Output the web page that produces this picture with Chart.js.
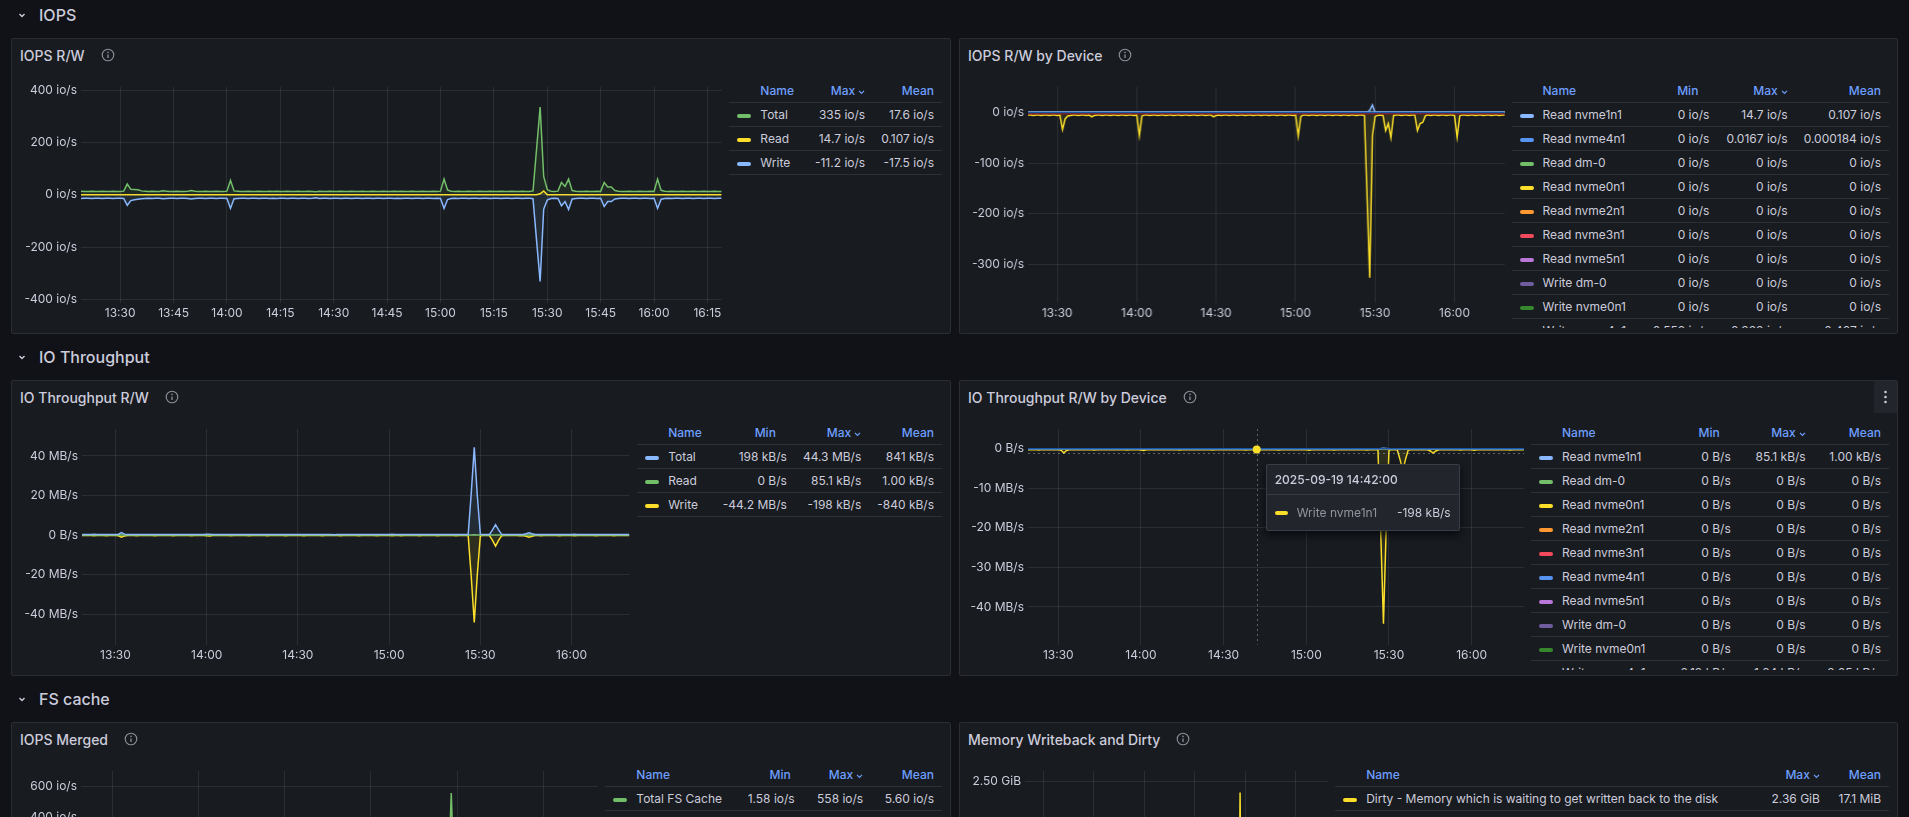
<!DOCTYPE html>
<html>
<head>
<meta charset="utf-8">
<title>Disk IO</title>
<script src="https://cdn.jsdelivr.net/npm/chart.js@4.4.1/dist/chart.umd.min.js"></script>
<style>
  html, body { margin: 0; padding: 0; background: #111217; }
  body { width: 1909px; height: 817px; overflow: hidden; position: relative; font-family: Inter, "Noto Sans", sans-serif; color: #ccccdc; }
  .row { position: absolute; left: 17px; height: 30px; display: flex; align-items: center; font-size: 16px; font-weight: 500; }
  .row svg { margin-right: 12px; }
  .panel { position: absolute; box-sizing: border-box; height: 296px; background: #181b1f; border: 1px solid #2a2d33; border-radius: 2px; }
  .panel.l { left: 11px; width: 940px; }
  .panel.r { left: 959px; width: 939px; }
  .head { height: 32px; padding-left: 8px; display: flex; align-items: center; font-size: 14px; font-weight: 500; }
  .head svg { margin-left: 16px; }
  .menu { position: absolute; right: 0; top: 0; width: 23px; height: 32px; background: #22252b; }
  .content { position: absolute; left: 8px; right: 8px; top: 40px; bottom: 8px; display: flex; }
  .plot { position: relative; flex: 1; min-width: 0; }
  .legend { margin-left: 7px; overflow: hidden; }
  .legend.scroll { margin-bottom: -3px; }
  table { border-collapse: collapse; font-size: 12px; white-space: nowrap; }
  th, td { height: 23px; padding: 0 8px; border-bottom: 1px solid rgba(204, 204, 220, 0.12); }
  th { color: #6e9fff; font-weight: 500; text-align: right; }
  th.min { padding-right: 19px; }
  #l5 th.min { padding-right: 12px; }
  th.n { text-align: left; padding-left: 31px; }
  th svg { margin-left: 3px; vertical-align: middle; }
  td { text-align: right; }
  td.n, th.n { padding-right: 13px; }
  td.n { text-align: left; }
  td.n i { display: inline-block; width: 14px; height: 4px; border-radius: 2px; margin-right: 9px; vertical-align: middle; }
  .tip { position: absolute; width: 194px; box-sizing: border-box; background: #22252b; border: 1px solid rgba(204, 204, 220, 0.15);
         border-radius: 2px; box-shadow: 0 4px 8px rgba(1, 4, 9, 0.75); font-size: 12px; z-index: 5; }
  .tip-head { height: 29px; line-height: 30px; padding-left: 8px; font-weight: 500; border-bottom: 1px solid rgba(204, 204, 220, 0.12); }
  .tip-row { height: 35px; display: flex; align-items: center; padding: 0 8px; }
  .tip-row i { display: inline-block; width: 13px; height: 4px; border-radius: 2px; margin-right: 9px; }
  .tip-row .lab { flex: 1; color: rgba(204, 204, 220, 0.65); }
</style>
</head>
<body>

<div class="row" style="top:0px"><svg width="10" height="10" viewBox="0 0 10 10"><path d="M2.5 4 L5 6.5 L7.5 4" stroke="#ccccdc" fill="none" stroke-width="1.4"/></svg>IOPS</div>
<div class="panel l" style="top:38px">
  <div class="head">IOPS R/W<span class="info"></span></div>
  <div class="content"><div class="plot"><canvas id="c1"></canvas></div><div class="legend" id="l1"></div></div>
</div>
<div class="panel r" style="top:38px">
  <div class="head">IOPS R/W by Device<span class="info"></span></div>
  <div class="content"><div class="plot"><canvas id="c2"></canvas></div><div class="legend scroll" id="l2"></div></div>
</div>

<div class="row" style="top:342px"><svg width="10" height="10" viewBox="0 0 10 10"><path d="M2.5 4 L5 6.5 L7.5 4" stroke="#ccccdc" fill="none" stroke-width="1.4"/></svg>IO Throughput</div>
<div class="panel l" style="top:380px">
  <div class="head">IO Throughput R/W<span class="info"></span></div>
  <div class="content"><div class="plot"><canvas id="c3"></canvas></div><div class="legend" id="l3"></div></div>
</div>
<div class="panel r" style="top:380px">
  <div class="head">IO Throughput R/W by Device<span class="info"></span></div>
  <div class="menu"><svg width="23" height="32" viewBox="0 0 23 32"><circle cx="11.5" cy="11" r="1.3" fill="#ccccdc"/><circle cx="11.5" cy="16" r="1.3" fill="#ccccdc"/><circle cx="11.5" cy="21" r="1.3" fill="#ccccdc"/></svg></div>
  <div class="content">
    <div class="plot"><canvas id="c4"></canvas>
      <div class="tip" id="tip"><div class="tip-head" id="tipTime"></div><div class="tip-row"><i id="tipSwatch"></i><span class="lab" id="tipName"></span><span id="tipValue"></span></div></div>
    </div>
    <div class="legend scroll" id="l4"></div>
  </div>
</div>

<div class="row" style="top:684px"><svg width="10" height="10" viewBox="0 0 10 10"><path d="M2.5 4 L5 6.5 L7.5 4" stroke="#ccccdc" fill="none" stroke-width="1.4"/></svg>FS cache</div>
<div class="panel l" style="top:722px">
  <div class="head">IOPS Merged<span class="info"></span></div>
  <div class="content"><div class="plot"><canvas id="c5"></canvas></div><div class="legend" id="l5"></div></div>
</div>
<div class="panel r" style="top:722px">
  <div class="head">Memory Writeback and Dirty<span class="info"></span></div>
  <div class="content"><div class="plot"><canvas id="c6"></canvas></div><div class="legend" id="l6"></div></div>
</div>

<script>
// one sample per minute, 13:19 .. 16:19
const startMinute = 13 * 60 + 19;
const lastIndex = 180;

const ticks15 = ['13:30', '13:45', '14:00', '14:15', '14:30', '14:45', '15:00', '15:15', '15:30', '15:45', '16:00', '16:15'];
const ticks30 = ['13:30', '14:00', '14:30', '15:00', '15:30', '16:00'];

// ---- IOPS R/W (io/s)
const iopsTotal = [
  14,13,13,14,13,13,14,13,13,14,13,13,14,41,21,
  20,19,15,14,13,14,13,13,15,14,13,13,14,13,13,
  14,16,14,13,13,14,13,13,14,13,13,14,55,15,14,
  13,13,14,13,13,14,13,13,14,13,14,13,13,14,13,
  13,14,13,13,14,13,12,14,13,13,14,13,13,14,13,
  13,14,13,13,14,13,13,14,13,13,14,13,13,14,13,
  14,13,13,14,13,13,14,13,13,14,13,14,60,18,14,
  13,14,13,13,14,13,13,14,13,13,14,13,13,14,13,
  13,14,13,13,14,13,13,15,175,335,70,20,14,13,14,
  47,32,60,16,14,13,13,14,13,13,14,13,47,30,30,
  16,14,13,13,14,13,13,14,13,13,14,13,60,17,14,
  13,14,13,13,14,13,13,14,13,13,14,13,13,14,13,
  13
];
const iopsRead = [
  0,0,0,0,0,0,0,0,0,0,0,0,0,0,0,
  0,0,0,0,0,0,0,0,0,0,0,0,0,0,0,
  0,0,0,0,0,0,0,0,0,0,0,0,0,0,0,
  0,0,0,0,0,0,0,0,0,0,0,0,0,0,0,
  0,0,0,0,0,0,0,0,0,0,0,0,0,0,0,
  0,0,0,0,0,0,0,0,0,0,0,0,0,0,0,
  0,0,0,0,0,0,0,0,0,0,0,0,0,0,0,
  0,0,0,0,0,0,0,0,0,0,0,0,0,0,0,
  0,0,0,0,0,0,0,0,0,4,14.7,0,0,0,0,
  0,0,0,0,0,0,0,0,0,0,0,0,0,0,0,
  0,0,0,0,0,0,0,0,0,0,0,0,0,0,0,
  0,0,0,0,0,0,0,0,0,0,0,0,0,0,0,
  0
];
const iopsWrite = [
  -14,-13,-13,-14,-13,-13,-14,-13,-13,-14,-13,-13,-14,-40,-22,
  -19,-17,-15,-14,-13,-14,-13,-13,-15,-14,-13,-13,-14,-13,-13,
  -14,-16,-14,-13,-13,-14,-13,-13,-14,-13,-13,-14,-52,-15,-14,
  -13,-13,-14,-13,-13,-14,-13,-13,-14,-13,-14,-13,-13,-14,-13,
  -13,-14,-13,-13,-14,-13,-11.2,-14,-13,-13,-14,-13,-13,-14,-13,
  -13,-14,-13,-13,-14,-13,-13,-14,-13,-13,-14,-13,-13,-14,-13,
  -14,-13,-13,-14,-13,-13,-14,-13,-13,-14,-13,-14,-52,-18,-14,
  -13,-14,-13,-13,-14,-13,-13,-14,-13,-13,-14,-13,-13,-14,-13,
  -13,-14,-13,-13,-14,-13,-13,-15,-175,-331,-55,-20,-14,-13,-14,
  -42,-26,-56,-16,-14,-13,-13,-14,-13,-13,-14,-13,-45,-26,-26,
  -16,-14,-13,-13,-14,-13,-13,-14,-13,-13,-14,-13,-52,-17,-14,
  -13,-14,-13,-13,-14,-13,-13,-14,-13,-13,-14,-13,-13,-14,-13,
  -13
];
const iopsTicks = [-400, -200, 0, 200, 400];
const iopsTickLabels = ['-400 io/s', '-200 io/s', '0 io/s', '200 io/s', '400 io/s'];

// ---- IOPS R/W by device (io/s)
const devIopsWriteNvme1n1 = [
  -5,-5,-6,-5,-5,-6,-5,-5,-6,-5,-5,-6,-5,-34,-13,
  -7,-6,-5,-5,-6,-5,-5,-6,-5,-9,-6,-5,-5,-6,-5,
  -5,-6,-5,-5,-6,-5,-5,-6,-5,-5,-6,-5,-46,-7,-5,
  -5,-6,-5,-5,-6,-5,-5,-6,-5,-5,-6,-5,-5,-6,-5,
  -5,-6,-5,-5,-6,-5,-5,-6,-5,-5,-9,-6,-5,-6,-5,
  -5,-6,-5,-5,-6,-5,-5,-6,-5,-5,-6,-5,-5,-6,-5,
  -5,-6,-5,-5,-6,-5,-5,-6,-5,-5,-6,-5,-47,-8,-5,
  -5,-6,-5,-5,-6,-5,-5,-6,-5,-5,-6,-5,-5,-6,-5,
  -5,-6,-5,-5,-6,-5,-5,-6,-165,-326,-46,-8,-6,-5,-6,
  -36,-22,-50,-6,-5,-5,-6,-5,-5,-6,-5,-5,-36,-22,-20,
  -7,-5,-6,-5,-5,-6,-5,-5,-6,-5,-5,-6,-49,-7,-5,
  -5,-6,-5,-5,-6,-5,-5,-6,-5,-5,-6,-5,-5,-6,-5,
  -5
];
const devIopsReadNvme1n1 = [
  0,0,0,0,0,0,0,0,0,0,0,0,0,0,0,
  0,0,0,0,0,0,0,0,0,0,0,0,0,0,0,
  0,0,0,0,0,0,0,0,0,0,0,0,0,0,0,
  0,0,0,0,0,0,0,0,0,0,0,0,0,0,0,
  0,0,0,0,0,0,0,0,0,0,0,0,0,0,0,
  0,0,0,0,0,0,0,0,0,0,0,0,0,0,0,
  0,0,0,0,0,0,0,0,0,0,0,0,0,0,0,
  0,0,0,0,0,0,0,0,0,0,0,0,0,0,0,
  0,0,0,0,0,0,0,0,0,4,14.7,0,0,0,0,
  0,0,0,0,0,0,0,0,0,0,1,0,0,0,0,
  0,0,0,0,0,0,0,0,0,0,0,0,0,0,0,
  0,0,0,0,0,0,0,0,0,0,0,0,0,0,0,
  0
];
// constant series: first and last sample
const flatZero = [0, 0];
const devIopsWriteNvme4n1 = [-0.1, -0.1];
const devIopsWriteNvme3n1 = [-2.5, -2.5];
const devIopsTicks = [-300, -200, -100, 0];
const devIopsTickLabels = ['-300 io/s', '-200 io/s', '-100 io/s', '0 io/s'];

// ---- IO Throughput R/W (MB/s)
const ioTotal = [
  0.26,0.3,0.24,0.28,0.33,0.25,0.3,0.27,0.31,0.25,0.29,0.3,0.42,1.2,0.45,
  0.3,0.27,0.25,0.31,0.28,0.26,0.3,0.25,0.29,0.32,0.27,0.25,0.3,0.28,0.26,
  0.31,0.27,0.25,0.3,0.28,0.26,0.32,0.27,0.25,0.3,0.28,0.35,0.45,0.3,0.27,
  0.25,0.3,0.28,0.26,0.31,0.27,0.25,0.3,0.28,0.26,0.32,0.27,0.25,0.3,0.28,
  0.26,0.31,0.27,0.25,0.3,0.28,0.26,0.32,0.27,0.25,0.3,0.28,0.26,0.31,0.27,
  0.25,0.3,0.28,0.26,0.32,0.27,0.25,0.3,0.198,0.26,0.31,0.27,0.25,0.3,0.28,
  0.26,0.32,0.27,0.25,0.3,0.28,0.26,0.31,0.27,0.25,0.3,0.28,0.4,0.3,0.26,
  0.31,0.27,0.25,0.3,0.28,0.26,0.32,0.27,0.25,0.3,0.28,0.26,0.31,0.27,0.25,
  0.3,0.28,0.26,0.32,0.27,0.25,0.3,0.28,21,44.3,20,0.35,0.3,0.27,0.28,
  2.6,5.2,2.6,0.32,0.27,0.25,0.3,0.28,0.26,0.31,0.27,0.6,1.1,0.6,0.3,
  0.26,0.31,0.27,0.25,0.3,0.28,0.26,0.32,0.27,0.25,0.3,0.28,0.38,0.3,0.27,
  0.25,0.3,0.28,0.26,0.31,0.27,0.25,0.3,0.28,0.26,0.32,0.27,0.25,0.3,0.28,
  0.26
];
const ioRead = [
  0,0,0,0,0,0,0,0,0,0,0,0,0,0,0,
  0,0,0,0,0,0,0,0,0,0,0,0,0,0,0,
  0,0,0,0,0,0,0,0,0,0,0,0,0,0,0,
  0,0,0,0,0,0,0,0,0,0,0,0,0,0,0,
  0,0,0,0,0,0,0,0,0,0,0,0,0,0,0,
  0,0,0,0,0,0,0,0,0,0,0,0,0,0,0,
  0,0,0,0,0,0,0,0,0,0,0,0,0,0,0,
  0,0,0,0,0,0,0,0,0,0,0,0,0,0,0,
  0,0,0,0,0,0,0,0,0.03,0.0851,0.066,0,0,0,0,
  0,0,0,0,0,0,0,0,0,0,0,0,0,0,0,
  0,0,0,0,0,0,0,0,0,0,0,0,0,0,0,
  0,0,0,0,0,0,0,0,0,0,0,0,0,0,0,
  0
];
const ioWrite = [
  -0.26,-0.3,-0.24,-0.28,-0.33,-0.25,-0.3,-0.27,-0.31,-0.25,-0.29,-0.3,-0.42,-1.1,-0.45,
  -0.3,-0.27,-0.25,-0.31,-0.28,-0.26,-0.3,-0.25,-0.29,-0.32,-0.27,-0.25,-0.3,-0.28,-0.26,
  -0.31,-0.27,-0.25,-0.3,-0.28,-0.26,-0.32,-0.27,-0.25,-0.3,-0.28,-0.35,-0.45,-0.3,-0.27,
  -0.25,-0.3,-0.28,-0.26,-0.31,-0.27,-0.25,-0.3,-0.28,-0.26,-0.32,-0.27,-0.25,-0.3,-0.28,
  -0.26,-0.31,-0.27,-0.25,-0.3,-0.28,-0.26,-0.32,-0.27,-0.25,-0.3,-0.28,-0.26,-0.31,-0.27,
  -0.25,-0.3,-0.28,-0.26,-0.32,-0.27,-0.25,-0.3,-0.198,-0.26,-0.31,-0.27,-0.25,-0.3,-0.28,
  -0.26,-0.32,-0.27,-0.25,-0.3,-0.28,-0.26,-0.31,-0.27,-0.25,-0.3,-0.28,-0.4,-0.3,-0.26,
  -0.31,-0.27,-0.25,-0.3,-0.28,-0.26,-0.32,-0.27,-0.25,-0.3,-0.28,-0.26,-0.31,-0.27,-0.25,
  -0.3,-0.28,-0.26,-0.32,-0.27,-0.25,-0.3,-0.28,-21,-44.2,-20,-0.35,-0.3,-0.27,-0.28,
  -2.7,-5.6,-2.7,-0.32,-0.27,-0.25,-0.3,-0.28,-0.26,-0.31,-0.27,-0.6,-1.1,-0.6,-0.3,
  -0.26,-0.31,-0.27,-0.25,-0.3,-0.28,-0.26,-0.32,-0.27,-0.25,-0.3,-0.28,-0.38,-0.3,-0.27,
  -0.25,-0.3,-0.28,-0.26,-0.31,-0.27,-0.25,-0.3,-0.28,-0.26,-0.32,-0.27,-0.25,-0.3,-0.28,
  -0.26
];
const ioTicks = [-40, -20, 0, 20, 40];
const ioTickLabels = ['-40 MB/s', '-20 MB/s', '0 B/s', '20 MB/s', '40 MB/s'];

// ---- IO Throughput by device (MB/s); nvme1n1 carries all of it
const devBpsWriteNvme4n1 = [-0.002, -0.002];
const devBpsWriteNvme3n1 = [-0.003, -0.003];
const devBpsTicks = [-40, -30, -20, -10, 0];
const devBpsTickLabels = ['-40 MB/s', '-30 MB/s', '-20 MB/s', '-10 MB/s', '0 B/s'];
const hoverTime = '14:42';
const hoverStamp = '2025-09-19 14:42:00';
const hoverLabel = '-198 kB/s';

// ---- IOPS Merged (io/s)
const fsCacheTotal = [
  2.1,2.4,1.9,2.6,2.2,1.58,2.3,2.5,2.0,2.4,2.2,2.6,2.3,8,3.1,
  2.5,2.2,2.4,2.0,2.6,2.3,2.1,2.5,2.2,2.4,2.0,2.6,2.3,2.1,2.5,
  2.2,2.4,2.0,2.6,2.3,2.1,2.5,2.2,2.4,2.0,2.6,2.3,10,2.8,2.2,
  2.4,2.0,2.6,2.3,2.1,2.5,2.2,2.4,2.0,2.6,2.3,2.1,2.5,2.2,2.4,
  2.0,2.6,2.3,2.1,2.5,2.2,2.4,2.0,2.6,2.3,2.1,2.5,2.2,2.4,2.0,
  2.6,2.3,2.1,2.5,2.2,2.4,2.0,2.6,2.3,2.1,2.5,2.2,2.4,2.0,2.6,
  2.3,2.1,2.5,2.2,2.4,2.0,2.6,2.3,2.1,2.5,2.2,2.4,12,2.9,2.3,
  2.1,2.5,2.2,2.4,2.0,2.6,2.3,2.1,2.5,2.2,2.4,2.0,2.6,2.3,2.1,
  2.5,2.2,2.4,2.0,2.6,2.3,2.1,2.5,12,558,10,2.6,2.3,2.1,2.5,
  8,5,9,2.4,2.0,2.6,2.3,2.1,2.5,2.2,2.4,2.0,6,3.2,2.5,
  2.2,2.4,2.0,2.6,2.3,2.1,2.5,2.2,2.4,2.0,2.6,2.3,10,2.7,2.2,
  2.4,2.0,2.6,2.3,2.1,2.5,2.2,2.4,2.0,2.6,2.3,2.1,2.5,2.2,2.4,
  2.0
];
const mergedTicks = [-600, -400, -200, 0, 200, 400, 600];
const mergedTickLabels = ['-600 io/s', '-400 io/s', '-200 io/s', '0 io/s', '200 io/s', '400 io/s', '600 io/s'];

// ---- Memory Dirty (MiB)
const dirtyMiB = [
  3.2,4.1,3.8,2.9,4.5,3.6,3.1,4.2,3.9,3.4,4.6,3.3,3.8,6.2,4.1,
  3.5,3.0,4.4,3.7,3.2,4.0,3.6,2.9,4.3,3.8,3.1,4.5,3.4,3.9,3.3,
  4.2,3.6,3.0,4.4,3.7,3.2,4.1,3.5,2.9,4.6,3.8,3.3,6.8,4.0,3.6,
  3.1,4.3,3.7,3.2,4.0,3.5,2.9,4.4,3.8,3.3,4.1,3.6,3.0,4.5,3.4,
  3.9,3.2,4.2,3.6,3.0,4.4,3.7,3.3,4.0,3.5,2.9,4.3,3.8,3.1,4.6,
  3.4,3.9,3.2,4.1,3.6,3.0,4.4,3.7,3.3,4.0,3.5,2.9,4.2,3.8,3.1,
  4.5,3.4,3.9,3.3,4.1,3.6,3.0,4.4,3.7,3.2,4.0,3.5,7.1,4.3,3.8,
  3.1,4.5,3.4,3.9,3.2,4.2,3.6,3.0,4.4,3.7,3.3,4.0,3.5,2.9,4.3,
  3.8,3.1,4.6,3.4,3.9,3.2,4.1,5.1,2417,7.4,4.4,3.7,3.3,4.0,3.5,
  6.1,5.2,6.6,3.8,3.1,4.5,3.4,3.9,3.2,4.2,3.6,3.0,5.8,4.4,3.7,
  3.3,4.0,3.5,2.9,4.3,3.8,3.1,4.6,3.4,3.9,3.2,4.1,6.4,3.6,3.0,
  4.4,3.7,3.2,4.0,3.5,2.9,4.2,3.8,3.1,4.5,3.4,3.9,3.3,4.1,3.6,
  3.0
];
const dirtyTicks = [0, 2560];
const dirtyTickLabels = ['0 B', '2.50 GiB'];

// ---- legends
const deviceColors = {
  'Read nvme1n1': '#8AB8FF', 'Read nvme4n1': '#5794F2', 'Read dm-0': '#73BF69', 'Read nvme0n1': '#FADE2A',
  'Read nvme2n1': '#FF9830', 'Read nvme3n1': '#F2495C', 'Read nvme5n1': '#B877D9', 'Write dm-0': '#705DA0',
  'Write nvme0n1': '#37872D', 'Write nvme1n1': '#FADE2A', 'Write nvme3n1': '#8E1A10', 'Write nvme4n1': '#1A56A8'
};
const iopsLegend = [
  ['Total', '#73BF69', '335 io/s', '17.6 io/s'],
  ['Read', '#FADE2A', '14.7 io/s', '0.107 io/s'],
  ['Write', '#8AB8FF', '-11.2 io/s', '-17.5 io/s']
];
const devIopsLegend = [
  ['Read nvme1n1', '0 io/s', '14.7 io/s', '0.107 io/s'],
  ['Read nvme4n1', '0 io/s', '0.0167 io/s', '0.000184 io/s'],
  ['Read dm-0', '0 io/s', '0 io/s', '0 io/s'],
  ['Read nvme0n1', '0 io/s', '0 io/s', '0 io/s'],
  ['Read nvme2n1', '0 io/s', '0 io/s', '0 io/s'],
  ['Read nvme3n1', '0 io/s', '0 io/s', '0 io/s'],
  ['Read nvme5n1', '0 io/s', '0 io/s', '0 io/s'],
  ['Write dm-0', '0 io/s', '0 io/s', '0 io/s'],
  ['Write nvme0n1', '0 io/s', '0 io/s', '0 io/s'],
  ['Write nvme4n1', '-0.558 io/s', '-0.333 io/s', '-0.407 io/s'],
  ['Write nvme3n1', '-2.50 io/s', '-2.50 io/s', '-2.50 io/s'],
  ['Write nvme1n1', '-326 io/s', '-4.00 io/s', '-9.85 io/s']
];
const ioLegend = [
  ['Total', '#8AB8FF', '198 kB/s', '44.3 MB/s', '841 kB/s'],
  ['Read', '#73BF69', '0 B/s', '85.1 kB/s', '1.00 kB/s'],
  ['Write', '#FADE2A', '-44.2 MB/s', '-198 kB/s', '-840 kB/s']
];
const devBpsLegend = [
  ['Read nvme1n1', '0 B/s', '85.1 kB/s', '1.00 kB/s'],
  ['Read dm-0', '0 B/s', '0 B/s', '0 B/s'],
  ['Read nvme0n1', '0 B/s', '0 B/s', '0 B/s'],
  ['Read nvme2n1', '0 B/s', '0 B/s', '0 B/s'],
  ['Read nvme3n1', '0 B/s', '0 B/s', '0 B/s'],
  ['Read nvme4n1', '0 B/s', '0 B/s', '0 B/s'],
  ['Read nvme5n1', '0 B/s', '0 B/s', '0 B/s'],
  ['Write dm-0', '0 B/s', '0 B/s', '0 B/s'],
  ['Write nvme0n1', '0 B/s', '0 B/s', '0 B/s'],
  ['Write nvme4n1', '-8.19 kB/s', '-1.64 kB/s', '-2.05 kB/s'],
  ['Write nvme3n1', '-4.10 kB/s', '-2.05 kB/s', '-3.00 kB/s'],
  ['Write nvme1n1', '-44.2 MB/s', '-198 kB/s', '-840 kB/s']
];
const mergedLegend = [
  ['Total FS Cache', '#73BF69', '1.58 io/s', '558 io/s', '5.60 io/s'],
  ['Writes merged', '#FADE2A', '-558 io/s', '-1.58 io/s', '-5.60 io/s']
];
const dirtyLegend = [
  ['Dirty - Memory which is waiting to get written back to the disk', '#FADE2A', '2.36 GiB', '17.1 MiB'],
  ['Writeback - Memory which is actively being written back to the disk', '#73BF69', '1.20 MiB', '12.3 KiB']
];

// ---- helpers
const gridColor = 'rgba(240, 250, 255, 0.09)';
const textColor = '#ccccdc';
Chart.defaults.font.family = 'Inter, "Noto Sans", sans-serif';
Chart.defaults.font.size = 12;
Chart.defaults.color = textColor;

const toMinute = (label) => { const [h, m] = label.split(':').map(Number); return h * 60 + m; };
const points = (values) => values.length === 2
  ? [{ x: startMinute, y: values[0] }, { x: startMinute + lastIndex, y: values[1] }]
  : values.map((v, i) => ({ x: startMinute + i, y: v }));
const fade = (hex, a) => {
  const n = parseInt(hex.slice(1), 16);
  return `rgba(${n >> 16}, ${(n >> 8) & 255}, ${n & 255}, ${a})`;
};

const infoIcon = '<svg width="14" height="14" viewBox="0 0 16 16"><circle cx="8" cy="8" r="6.6" fill="none" stroke="#8e8e9b" stroke-width="1.3"/>' +
  '<line x1="8" y1="7.3" x2="8" y2="11.4" stroke="#8e8e9b" stroke-width="1.5"/><circle cx="8" cy="5" r="0.95" fill="#8e8e9b"/></svg>';
document.querySelectorAll('.info').forEach(el => { el.outerHTML = infoIcon; });
const caret = '<svg width="7" height="6" viewBox="0 0 7 6"><path d="M1 1.8 L3.5 4.3 L6 1.8" stroke="#6e9fff" fill="none" stroke-width="1.2"/></svg>';

function legend(id, cols, rows) {
  let html = '<table><tr><th class="n">Name</th>' +
    cols.map(c => `<th class="${c.toLowerCase()}">${c}${c === 'Max' ? caret : ''}</th>`).join('') + '</tr>';
  rows.forEach(r => {
    html += `<tr><td class="n"><i style="background:${r[1]}"></i>${r[0]}</td>` + r.slice(2).map(v => `<td>${v}</td>`).join('') + '</tr>';
  });
  document.getElementById(id).innerHTML = html + '</table>';
}
const withColors = (rows) => rows.map(r => [r[0], deviceColors[r[0]], ...r.slice(1)]);

function panelChart(id, cfg) {
  return new Chart(document.getElementById(id), {
    type: 'line',
    data: {
      datasets: cfg.series.map(([label, color, values]) => ({
        label, data: points(values), borderColor: color, backgroundColor: fade(color, 0.1),
        borderWidth: cfg.lineWidth || 1.5, pointRadius: 0, tension: 0, fill: 'origin'
      }))
    },
    options: {
      animation: false, responsive: true, maintainAspectRatio: false, events: [],
      layout: { padding: { top: 8, right: 0, bottom: 0, left: 0 } },
      plugins: { legend: { display: false }, tooltip: { enabled: false } },
      scales: {
        x: {
          type: 'linear', min: startMinute, max: startMinute + lastIndex,
          afterBuildTicks: (ax) => { ax.ticks = cfg.xTicks.map(l => ({ value: toMinute(l) })); },
          afterFit: (ax) => { ax.paddingLeft = 0; ax.paddingRight = 0; },
          ticks: { callback: (v, i) => cfg.xTicks[i], autoSkip: false, maxRotation: 0, padding: 4, color: textColor },
          grid: { color: gridColor, drawTicks: false }, border: { display: false }
        },
        y: {
          type: 'linear', min: cfg.yMin, max: cfg.yMax,
          afterBuildTicks: (ax) => { ax.ticks = cfg.yTicks.map(v => ({ value: v })); },
          afterFit: (ax) => { ax.width = cfg.yWidth; ax.paddingTop = 0; ax.paddingBottom = 0; },
          ticks: { callback: (v, i) => cfg.yLabels[i], padding: 4, color: textColor },
          grid: { color: gridColor, drawTicks: false }, border: { display: false }
        }
      }
    },
    plugins: cfg.plugins || []
  });
}

// ---- panels
legend('l1', ['Max', 'Mean'], iopsLegend);
panelChart('c1', {
  series: [['Write', '#8AB8FF', iopsWrite], ['Read', '#FADE2A', iopsRead], ['Total', '#73BF69', iopsTotal]],
  xTicks: ticks15, yTicks: iopsTicks, yLabels: iopsTickLabels, yMin: -412, yMax: 412, yWidth: 61
});

legend('l2', ['Min', 'Max', 'Mean'], withColors(devIopsLegend));
panelChart('c2', {
  series: [
    ['Write nvme4n1', deviceColors['Write nvme4n1'], devIopsWriteNvme4n1],
    ['Read nvme1n1', deviceColors['Read nvme1n1'], devIopsReadNvme1n1],
    ['Read nvme4n1', deviceColors['Read nvme4n1'], flatZero],
    ['Read dm-0', deviceColors['Read dm-0'], flatZero],
    ['Read nvme0n1', deviceColors['Read nvme0n1'], flatZero],
    ['Read nvme2n1', deviceColors['Read nvme2n1'], flatZero],
    ['Read nvme3n1', deviceColors['Read nvme3n1'], flatZero],
    ['Read nvme5n1', deviceColors['Read nvme5n1'], flatZero],
    ['Write dm-0', deviceColors['Write dm-0'], flatZero],
    ['Write nvme0n1', deviceColors['Write nvme0n1'], flatZero],
    ['Write nvme3n1', deviceColors['Write nvme3n1'], devIopsWriteNvme3n1],
    ['Write nvme1n1', deviceColors['Write nvme1n1'], devIopsWriteNvme1n1]
  ],
  xTicks: ticks30, yTicks: devIopsTicks, yLabels: devIopsTickLabels, yMin: -375, yMax: 50, yWidth: 60
});

legend('l3', ['Min', 'Max', 'Mean'], ioLegend);
panelChart('c3', {
  series: [['Total', '#8AB8FF', ioTotal], ['Read', '#73BF69', ioRead], ['Write', '#FADE2A', ioWrite]],
  xTicks: ticks30, yTicks: ioTicks, yLabels: ioTickLabels, yMin: -55.4, yMax: 53.6, yWidth: 62
});

// hover state of the by-device throughput panel
const hoverIndex = toMinute(hoverTime) - startMinute;
const hoverPlugin = {
  id: 'hover',
  afterDatasetsDraw(chart) {
    const { ctx, chartArea, scales } = chart;
    const x = scales.x.getPixelForValue(toMinute(hoverTime));
    const y = scales.y.getPixelForValue(ioWrite[hoverIndex]);
    ctx.save();
    ctx.strokeStyle = 'rgba(204, 204, 220, 0.4)';
    ctx.lineWidth = 1;
    ctx.setLineDash([2, 3]);
    ctx.beginPath();
    ctx.moveTo(Math.round(x) + 0.5, chartArea.top);
    ctx.lineTo(Math.round(x) + 0.5, chartArea.bottom);
    ctx.moveTo(chartArea.left, Math.round(y + 4) + 0.5);
    ctx.lineTo(chartArea.right, Math.round(y + 4) + 0.5);
    ctx.stroke();
    ctx.setLineDash([]);
    ctx.fillStyle = deviceColors['Write nvme1n1'];
    ctx.beginPath();
    ctx.arc(x, y, 4, 0, Math.PI * 2);
    ctx.fill();
    ctx.restore();
    const tip = document.getElementById('tip');
    tip.style.left = (x + 9) + 'px';
    tip.style.top = (y + 15) + 'px';
  }
};
document.getElementById('tipTime').textContent = hoverStamp;
document.getElementById('tipSwatch').style.background = deviceColors['Write nvme1n1'];
document.getElementById('tipName').textContent = 'Write nvme1n1';
document.getElementById('tipValue').textContent = hoverLabel;

legend('l4', ['Min', 'Max', 'Mean'], withColors(devBpsLegend));
panelChart('c4', {
  series: [
    ['Write nvme4n1', deviceColors['Write nvme4n1'], devBpsWriteNvme4n1],
    ['Read nvme1n1', deviceColors['Read nvme1n1'], ioRead],
    ['Read dm-0', deviceColors['Read dm-0'], flatZero],
    ['Read nvme0n1', deviceColors['Read nvme0n1'], flatZero],
    ['Read nvme2n1', deviceColors['Read nvme2n1'], flatZero],
    ['Read nvme3n1', deviceColors['Read nvme3n1'], flatZero],
    ['Read nvme4n1', deviceColors['Read nvme4n1'], flatZero],
    ['Read nvme5n1', deviceColors['Read nvme5n1'], flatZero],
    ['Write dm-0', deviceColors['Write dm-0'], flatZero],
    ['Write nvme0n1', deviceColors['Write nvme0n1'], flatZero],
    ['Write nvme3n1', deviceColors['Write nvme3n1'], devBpsWriteNvme3n1],
    ['Write nvme1n1', deviceColors['Write nvme1n1'], ioWrite]
  ],
  xTicks: ticks30, yTicks: devBpsTicks, yLabels: devBpsTickLabels, yMin: -49.5, yMax: 4.96, yWidth: 60,
  plugins: [hoverPlugin]
});

legend('l5', ['Min', 'Max', 'Mean'], mergedLegend);
panelChart('c5', {
  series: [['Total FS Cache', '#73BF69', fsCacheTotal]],
  xTicks: ticks30, yTicks: mergedTicks, yLabels: mergedTickLabels, yMin: -715, yMax: 703, yWidth: 61
});

legend('l6', ['Max', 'Mean'], dirtyLegend);
panelChart('c6', {
  series: [['Dirty', '#FADE2A', dirtyMiB]],
  xTicks: ticks30, yTicks: dirtyTicks, yLabels: dirtyTickLabels, yMin: 0, yMax: 2686, yWidth: 57
});
</script>
</body>
</html>
